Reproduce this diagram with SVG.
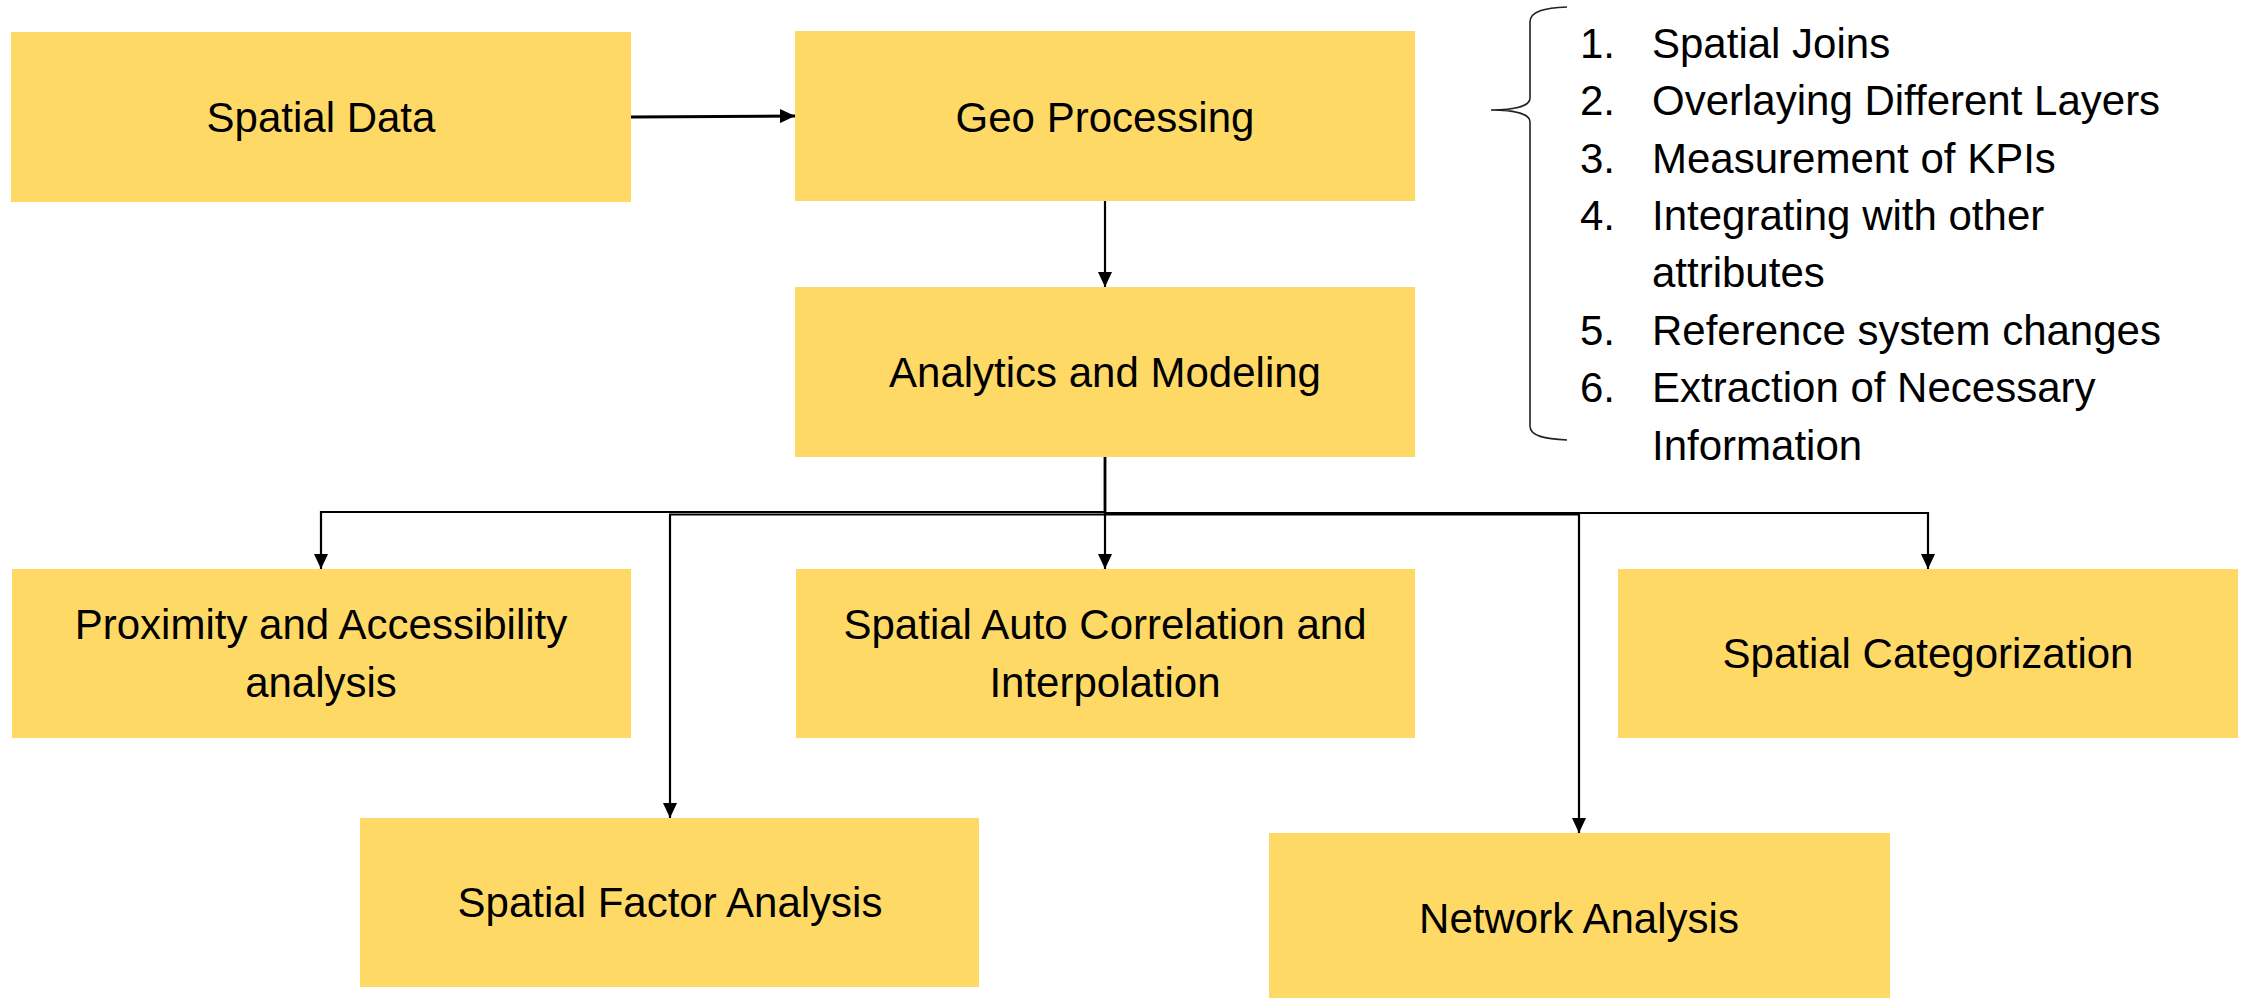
<svg xmlns="http://www.w3.org/2000/svg" width="2244" height="998" viewBox="0 0 2244 998">
  <style>
    .box { fill: #FFD966; }
    .label { font-family: "Liberation Sans", Arial, sans-serif; font-size: 42px; fill: #000; text-anchor: middle; }
    .item { font-family: "Liberation Sans", Arial, sans-serif; font-size: 42px; fill: #000; }
    .conn { fill: none; stroke: #000; stroke-width: 2.2; }
    .brace { fill: none; stroke: #222; stroke-width: 1.6; }
  </style>
  <defs>
    <marker id="arrow" markerUnits="userSpaceOnUse" markerWidth="16" markerHeight="14" refX="15" refY="7" orient="auto">
      <path d="M0,0 L15,7 L0,14 z" fill="#000"/>
    </marker>
  </defs>
  <rect width="2244" height="998" fill="#fff"/>

  <!-- connectors -->
  <g id="connectors">
    <path class="conn" style="stroke-width:3" d="M631,117 L795,116" marker-end="url(#arrow)"/>
    <path class="conn" d="M1105,201 L1105,287" marker-end="url(#arrow)"/>
    <path class="conn" d="M1105,457 L1105,512 L321,512 L321,569" marker-end="url(#arrow)"/>
    <path class="conn" d="M1105,457 L1105,569" marker-end="url(#arrow)"/>
    <path class="conn" d="M1105,457 L1105,513 L1928,513 L1928,569" marker-end="url(#arrow)"/>
    <path class="conn" d="M1105,457 L1105,514.5 L670,514.5 L670,818" marker-end="url(#arrow)"/>
    <path class="conn" d="M1105,457 L1105,514.5 L1579,514.5 L1579,833" marker-end="url(#arrow)"/>
  </g>

  <!-- nodes -->
  <g id="spatial-data">
    <rect class="box" x="11" y="32" width="620" height="170"/>
    <text class="label" x="321" y="132">Spatial Data</text>
  </g>
  <g id="geo-processing">
    <rect class="box" x="795" y="31" width="620" height="170"/>
    <text class="label" x="1105" y="132">Geo Processing</text>
  </g>
  <g id="analytics-modeling">
    <rect class="box" x="795" y="287" width="620" height="170"/>
    <text class="label" x="1105" y="387">Analytics and Modeling</text>
  </g>
  <g id="proximity-accessibility">
    <rect class="box" x="12" y="569" width="619" height="169"/>
    <text class="label" x="321" y="639">Proximity and Accessibility</text>
    <text class="label" x="321" y="697">analysis</text>
  </g>
  <g id="auto-correlation">
    <rect class="box" x="796" y="569" width="619" height="169"/>
    <text class="label" x="1105" y="639">Spatial Auto Correlation and</text>
    <text class="label" x="1105" y="697">Interpolation</text>
  </g>
  <g id="spatial-categorization">
    <rect class="box" x="1618" y="569" width="620" height="169"/>
    <text class="label" x="1928" y="668">Spatial Categorization</text>
  </g>
  <g id="spatial-factor">
    <rect class="box" x="360" y="818" width="619" height="169"/>
    <text class="label" x="670" y="917">Spatial Factor Analysis</text>
  </g>
  <g id="network-analysis">
    <rect class="box" x="1269" y="833" width="621" height="170"/>
    <text class="label" x="1579" y="933">Network Analysis</text>
  </g>

  <!-- geo processing task list with brace -->
  <g id="geo-tasks">
    <path class="brace" d="M1567,7 C1545,8 1530,11 1530,22 L1530,98 C1530,106 1515,110 1491,110 C1515,110 1530,114 1530,122 L1530,426 C1530,436 1545,439 1567,440"/>
    <text class="item" x="1580" y="58">1.</text>
    <text class="item" x="1652" y="58">Spatial Joins</text>
    <text class="item" x="1580" y="115">2.</text>
    <text class="item" x="1652" y="115">Overlaying Different Layers</text>
    <text class="item" x="1580" y="173">3.</text>
    <text class="item" x="1652" y="173">Measurement of KPIs</text>
    <text class="item" x="1580" y="230">4.</text>
    <text class="item" x="1652" y="230">Integrating with other</text>
    <text class="item" x="1652" y="287">attributes</text>
    <text class="item" x="1580" y="345">5.</text>
    <text class="item" x="1652" y="345">Reference system changes</text>
    <text class="item" x="1580" y="402">6.</text>
    <text class="item" x="1652" y="402">Extraction of Necessary</text>
    <text class="item" x="1652" y="460">Information</text>
  </g>
</svg>
